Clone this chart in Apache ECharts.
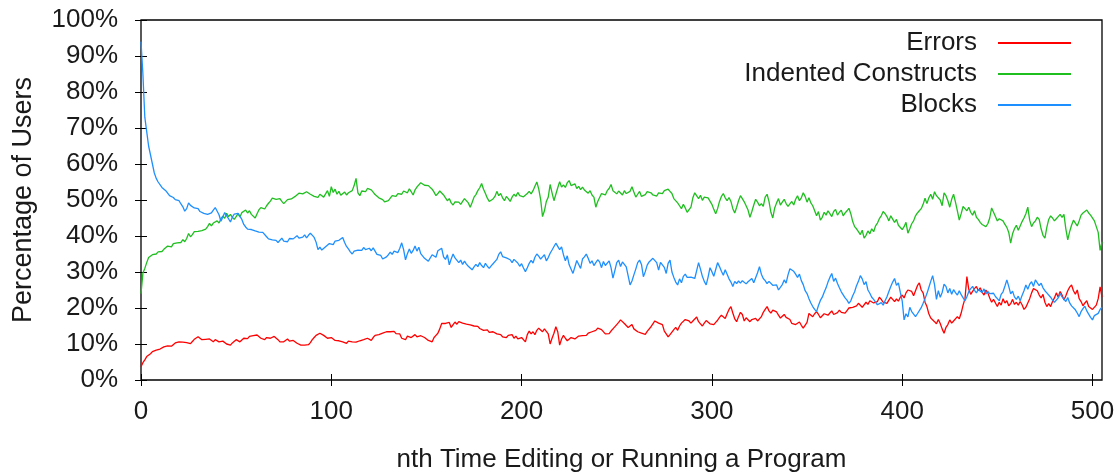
<!DOCTYPE html>
<html>
<head>
<meta charset="utf-8">
<script src="https://cdn.jsdelivr.net/npm/echarts@6/dist/echarts.min.js"></script>
<style>html,body{margin:0;padding:0;background:#fff}#c{width:1118px;height:473px}</style>
</head>
<body>
<div id="c"></div>
<script>
const seriesNames = ['Errors', 'Indented Constructs', 'Blocks'];
const xTicks = [0, 100, 200, 300, 400, 500];
const yTicks = [0, 10, 20, 30, 40, 50, 60, 70, 80, 90, 100];

const errors = [
3.7,4.8,5.6,6.5,7.0,7.3,7.9,7.6,8.3,8.8,
8.6,8.9,9.2,9.0,9.5,9.7,9.4,9.9,10.3,10.1,
10.6,10.2,10.5,10.8,10.4,10.6,10.1,10.7,11.3,11.6,
12.0,11.5,11.2,11.6,11.3,11.0,11.4,11.1,10.6,11.2,
10.9,10.6,10.2,10.8,10.4,10.0,9.8,9.7,10.3,10.7,
11.2,10.9,10.6,11.1,11.6,11.2,11.5,12.1,11.8,12.3,
12.0,12.5,12.2,11.6,11.9,11.2,11.8,12.3,11.6,11.9,
12.1,11.7,11.2,10.6,10.2,10.6,10.9,11.4,10.8,11.2,
11.0,10.6,10.2,10.0,9.7,9.8,9.7,10.2,9.8,10.4,
11.2,11.8,12.4,12.8,13.0,12.6,12.4,12.0,11.6,12.0,
11.8,11.4,11.0,11.3,10.9,11.2,10.6,10.3,10.2,10.8,
11.0,10.6,10.2,10.5,10.2,10.9,10.4,11.2,10.8,11.6,
11.2,11.0,11.8,12.4,12.0,12.6,12.2,13.0,13.2,13.4,
13.0,13.4,13.2,13.5,12.9,12.4,12.8,11.6,12.0,11.2,
12.2,12.6,11.8,11.4,12.6,12.0,11.5,12.3,12.5,11.8,
11.6,11.0,10.9,10.6,11.8,12.4,13.0,14.2,15.7,15.6,
15.7,15.8,16.0,14.6,15.4,16.1,15.5,16.2,16.0,15.8,
15.9,15.5,15.7,15.3,15.6,15.0,14.6,14.9,14.3,14.1,
13.8,13.5,13.9,13.2,13.6,13.4,13.0,12.8,12.4,12.6,
12.0,12.2,11.8,12.4,11.9,12.6,11.6,12.2,11.4,11.2,
11.8,12.2,10.6,12.6,13.6,12.8,13.4,12.6,13.8,14.4,
14.8,13.4,14.2,14.6,12.8,10.0,11.6,13.0,14.8,13.4,
9.7,11.4,12.4,11.6,10.9,11.3,11.8,12.0,11.4,11.7,
12.2,11.8,12.3,12.7,12.4,13.0,12.6,13.4,13.0,13.8,
14.4,14.8,14.0,13.6,12.8,13.3,12.9,13.6,14.2,14.6,
15.4,16.0,16.7,16.2,15.7,15.2,14.6,14.9,15.4,14.2,
13.8,13.4,13.3,13.0,13.2,12.7,13.5,14.0,14.8,15.6,
16.4,16.7,15.8,16.2,15.4,13.6,12.8,12.0,12.6,13.3,
14.0,14.6,13.8,15.0,15.8,16.2,16.8,17.1,16.4,15.8,
16.4,16.9,17.5,16.2,15.6,15.0,15.8,16.5,17.0,15.6,
16.0,15.4,16.0,16.6,17.4,18.0,17.6,17.1,18.4,19.6,
20.4,18.6,17.0,16.2,17.6,18.8,18.2,16.4,17.3,16.8,
16.2,16.8,16.4,17.1,16.4,16.9,17.6,18.8,19.6,20.4,
19.2,18.6,19.4,19.8,18.9,18.0,17.2,17.6,18.2,17.4,
17.6,16.8,15.7,16.2,15.4,15.8,16.1,15.2,14.4,13.9,
16.0,18.5,18.8,17.6,18.4,19.0,18.2,17.3,17.8,18.4,
18.8,18.0,18.6,19.2,18.2,18.1,18.7,19.4,18.8,19.2,
18.6,19.3,20.0,19.6,20.2,19.8,20.6,21.3,20.8,20.2,
20.7,21.6,21.0,22.0,22.2,21.4,20.9,21.8,23.0,22.4,
21.6,22.1,21.3,22.2,23.0,22.4,21.8,22.5,21.9,23.0,
23.6,22.8,24.2,25.0,25.5,24.6,23.4,24.8,26.2,27.0,
25.0,24.2,21.6,20.4,18.4,17.2,16.7,16.2,15.6,16.8,
15.7,14.2,13.0,14.6,15.4,16.7,15.8,16.4,16.9,17.6,
17.0,18.6,20.8,22.6,28.7,25.2,23.8,24.6,25.4,26.0,
24.8,25.6,24.4,23.6,25.0,24.2,22.8,21.6,22.4,21.4,
20.4,21.6,20.8,22.6,21.4,22.0,20.6,21.2,22.4,21.0,
21.6,20.8,21.8,20.9,19.6,20.2,21.4,22.6,24.2,25.4,
25.9,24.8,23.6,22.8,23.8,21.6,20.4,21.2,20.4,21.8,
22.8,24.2,23.0,24.6,23.6,22.2,23.4,24.8,25.8,26.4,
24.8,23.8,25.0,22.6,21.8,20.6,21.4,22.0,20.4,20.8,
19.6,19.2,20.8,22.6,25.9,23.0
];

const indented = [
24.0,29.7,31.0,32.6,34.0,34.2,34.8,35.3,35.0,35.6,
36.0,35.7,36.3,36.8,37.2,37.5,37.0,37.9,38.4,38.1,
38.6,38.2,39.0,38.4,39.3,40.7,39.8,40.4,41.2,41.0,
41.3,40.8,41.5,41.2,41.9,42.6,43.5,42.8,43.6,43.3,
44.2,43.6,44.8,45.5,44.9,46.3,45.4,46.0,45.2,44.6,
45.4,46.2,45.3,46.5,46.1,47.2,46.4,47.0,46.0,45.6,
45.0,46.2,47.3,47.9,48.0,47.5,48.4,49.1,49.7,50.5,
51.0,50.2,49.8,50.4,49.6,49.0,49.5,50.1,50.6,50.3,
50.8,51.0,51.5,51.9,52.3,51.7,52.2,52.3,52.0,51.6,
51.4,51.0,50.5,50.7,51.6,51.2,50.8,51.3,52.6,51.0,
53.7,52.1,53.0,51.6,52.4,51.3,50.9,52.2,51.4,52.0,
51.5,52.6,54.0,56.0,52.0,51.2,52.5,53.0,52.3,53.2,
53.7,52.8,52.2,51.5,51.7,50.6,50.9,50.1,49.5,49.0,
49.8,50.5,51.2,51.6,51.0,51.8,52.3,51.6,52.5,53.0,
52.0,53.1,52.3,51.4,52.8,53.6,54.2,54.8,54.6,54.1,
54.5,54.0,53.8,53.0,52.2,51.2,51.8,52.5,52.0,51.4,
50.6,49.8,50.4,49.2,48.6,49.5,49.0,49.4,48.8,49.6,
50.4,50.0,49.2,48.0,49.3,50.8,51.5,52.6,53.4,54.6,
53.0,51.8,50.5,49.6,49.2,50.3,51.0,52.4,51.2,51.8,
50.6,49.8,51.0,50.4,49.6,50.8,51.6,51.0,52.1,51.2,
51.6,50.9,51.3,51.8,52.4,51.7,52.6,53.8,55.0,53.1,
50.2,45.4,47.0,49.6,50.8,54.3,52.0,49.8,51.6,53.4,
55.1,53.6,54.2,53.5,54.8,55.4,54.0,53.6,54.5,53.2,
53.8,52.9,53.6,52.8,52.5,51.9,52.6,51.4,50.8,48.0,
49.6,50.7,51.8,52.2,51.4,52.6,53.2,54.3,52.6,53.0,
51.7,52.5,52.0,51.4,52.6,51.8,51.3,52.4,53.7,52.2,
50.8,51.6,52.4,51.0,50.6,51.5,52.3,51.8,52.0,51.4,
51.7,51.1,52.0,52.4,51.8,52.6,52.2,53.0,52.4,51.8,
50.4,50.0,49.2,48.4,47.6,48.8,47.8,46.6,46.3,48.0,
50.6,52.0,51.6,50.4,51.3,49.9,50.8,51.2,50.6,49.7,
48.8,47.4,46.2,47.6,49.6,51.0,51.8,50.6,49.8,50.7,
49.6,47.6,46.4,48.0,49.8,51.2,50.4,49.5,49.0,47.2,
45.2,46.8,48.6,50.2,49.4,48.4,49.0,48.2,50.8,51.6,
49.6,46.6,45.0,47.8,49.2,50.4,48.6,49.4,50.2,49.0,
48.2,47.8,49.6,48.6,50.2,51.2,49.8,50.6,52.0,51.0,
49.4,50.6,49.2,48.4,47.0,45.6,46.8,44.4,45.2,46.6,
45.8,47.0,46.2,45.4,46.8,47.4,45.8,46.6,47.2,45.6,
46.4,47.0,47.7,46.2,44.0,42.6,42.0,41.2,40.4,41.6,
39.4,40.2,41.4,40.6,42.0,41.2,42.8,43.6,44.8,45.6,
46.8,46.2,45.4,44.2,45.6,46.0,43.8,44.6,43.0,42.8,
41.8,42.6,43.8,40.8,42.0,43.4,44.2,45.6,46.4,47.0,
47.6,48.8,50.5,49.0,50.6,51.6,50.2,52.3,51.2,50.8,
50.0,48.4,52.0,51.2,49.8,48.0,50.2,51.6,49.4,47.0,
44.4,46.2,48.2,47.6,47.0,48.0,46.6,45.8,47.0,45.2,
44.6,43.8,43.2,42.9,42.6,43.4,45.0,47.8,46.6,45.4,
44.2,44.8,45.0,44.2,43.2,42.4,41.0,38.0,40.6,42.0,
43.0,41.6,42.8,44.0,45.0,46.2,48.0,44.4,42.6,43.6,
44.2,45.2,44.6,42.0,40.2,39.4,42.4,44.6,45.6,45.0,
44.2,44.8,45.4,46.0,45.2,46.0,42.0,38.9,41.2,43.0,
44.4,43.6,42.8,44.2,45.8,46.4,46.0,47.2,46.4,45.8,
45.6,44.2,42.6,41.0,36.0,38.4
];

const blocks = [
94.0,85.0,73.0,69.0,65.0,62.5,60.0,57.5,56.0,55.0,
54.5,53.5,53.8,52.6,51.9,51.2,51.6,50.7,50.1,49.6,
49.8,48.9,48.1,46.9,47.6,49.2,48.5,48.9,47.8,47.3,
47.6,46.8,47.1,46.3,46.7,46.0,45.6,46.4,47.2,47.9,
48.2,45.9,44.1,45.3,46.5,45.6,44.8,43.9,45.2,46.1,
45.7,46.3,45.9,44.6,43.2,42.5,41.9,41.6,41.8,42.2,
41.4,41.9,41.1,41.6,41.0,40.6,39.8,39.2,39.6,38.9,
38.5,38.8,38.2,38.7,39.4,38.6,39.1,38.4,39.3,39.8,
39.2,39.6,40.1,39.4,38.9,39.7,40.3,39.5,40.2,40.8,
40.4,39.6,38.3,36.2,36.9,36.1,36.4,37.0,37.5,37.9,
38.3,37.6,38.6,38.1,38.8,39.1,39.6,38.2,37.1,36.4,
35.6,35.0,35.8,35.3,36.1,36.5,36.0,36.8,36.2,36.4,
36.6,35.9,36.7,35.8,34.9,35.4,34.6,33.6,33.3,34.2,
34.8,35.5,34.9,35.8,36.2,35.4,36.6,38.1,36.2,33.4,
35.1,36.4,35.2,36.0,37.2,35.8,36.9,35.1,34.6,33.8,
34.3,33.0,33.4,34.8,35.2,34.1,35.9,36.3,36.6,34.2,
33.5,34.8,32.0,33.6,35.0,33.9,34.4,32.6,33.3,32.1,
33.0,32.2,31.6,31.9,30.6,31.4,32.1,31.5,32.6,31.8,
31.2,32.4,31.6,31.0,31.7,32.3,32.8,33.5,34.9,35.6,
34.3,34.8,33.9,34.2,33.4,32.6,33.5,33.1,32.5,31.6,
32.3,31.1,30.1,31.2,32.4,33.2,32.5,34.1,35.0,34.4,
33.6,34.2,34.8,33.1,34.0,35.2,36.1,36.4,38.0,37.1,
36.2,37.0,34.8,33.1,34.5,32.0,31.8,29.6,31.4,33.2,
32.1,31.0,33.6,34.2,35.0,33.8,32.4,33.1,31.8,32.6,
33.4,32.8,31.2,32.9,31.8,32.0,33.1,31.2,28.3,30.4,
32.6,33.3,31.5,32.8,33.0,31.4,28.9,26.4,27.5,29.2,
30.8,32.6,33.3,32.1,28.7,30.1,31.9,32.8,33.3,33.8,
33.9,32.6,30.5,32.7,33.0,31.3,29.6,32.4,33.3,30.0,
28.5,27.2,26.4,28.1,27.0,28.8,29.4,28.5,29.0,28.6,
29.1,28.2,30.4,32.6,30.8,28.8,27.4,26.4,28.6,31.2,
30.1,28.8,30.7,32.6,31.5,30.2,29.1,30.6,29.4,28.1,
27.2,26.0,27.4,26.8,27.5,26.9,27.6,27.1,26.7,27.3,
26.9,28.2,27.0,27.2,29.8,31.5,29.4,28.2,27.6,26.8,
27.4,27.2,26.3,25.8,26.4,25.0,25.5,26.5,27.8,26.9,
29.2,30.9,31.0,30.2,29.4,28.5,29.4,27.6,26.5,24.8,
24.0,22.6,21.4,20.4,19.6,19.0,20.7,22.1,23.0,24.4,
25.6,27.2,28.5,29.6,27.4,28.3,26.8,25.6,24.5,24.0,
22.8,22.2,21.3,22.0,23.4,24.5,26.2,27.4,29.0,28.1,
26.5,27.3,25.0,24.1,23.0,22.4,21.6,20.9,20.4,21.5,
20.8,22.0,23.1,24.6,26.0,27.2,28.2,26.3,27.0,24.4,
22.0,16.7,18.4,17.5,20.2,19.0,18.7,17.6,18.4,18.5,
20.1,21.3,22.6,24.0,25.7,27.4,29.0,26.5,22.4,24.8,
23.0,24.3,26.6,26.0,24.2,25.4,23.8,25.1,24.3,23.6,
24.8,23.7,23.2,22.0,23.1,24.6,25.4,26.0,24.9,24.2,
25.1,24.7,24.3,25.3,23.9,24.6,24.0,23.6,24.1,23.2,
22.6,22.0,23.8,24.5,26.1,27.8,26.0,23.9,24.7,23.1,
22.4,23.3,22.0,23.5,24.8,26.4,25.2,26.6,27.3,26.0,
27.8,27.0,26.2,26.9,25.6,24.8,24.2,23.8,23.0,22.2,
21.6,21.3,22.8,24.0,23.1,22.5,21.8,22.9,21.4,20.6,
20.2,19.5,18.6,17.6,19.0,19.8,20.5,19.2,18.3,17.4,
16.7,17.9,18.0,18.5,19.6,20.2
];

const colors = ['#ff0000', '#1fbf1f', '#1e8fff'];
const font = '"Liberation Sans", Arial, sans-serif';
const textColor = '#1a1a1a';
const toPairs = arr => arr.map((v, i) => [i, v]);

const chart = echarts.init(document.getElementById('c'), null, { renderer: 'canvas' });
const tickStyle = { show: true, inside: true, length: 6, lineStyle: { color: '#000', width: 1 } };
chart.setOption({
  animation: false,
  backgroundColor: '#fff',
  color: colors,
  grid: { left: 141, right: 16, top: 20, bottom: 93, containLabel: false, outerBoundsMode: 'none',
          show: true, borderColor: '#000', borderWidth: 1.3, backgroundColor: 'transparent' },
  legend: {
    orient: 'vertical', right: 42, top: 25, align: 'right', itemGap: 5,
    itemWidth: 73, itemHeight: 2, icon: 'rect',
    textStyle: { fontFamily: font, fontSize: 26, color: textColor, padding: [0, 16, 0, 0] },
    data: seriesNames
  },
  xAxis: [
    { type: 'value', min: 0, max: 505, interval: 100, position: 'bottom',
      name: 'nth Time Editing or Running a Program', nameLocation: 'middle', nameGap: 67,
      nameTextStyle: { fontFamily: font, fontSize: 26, color: textColor },
      axisLine: { show: false }, splitLine: { show: false },
      axisTick: Object.assign({ customValues: xTicks }, tickStyle),
      axisLabel: { customValues: xTicks, fontFamily: font, fontSize: 26, color: textColor, margin: 19 } },
    { type: 'value', min: 0, max: 505, position: 'top',
      axisLine: { show: false }, splitLine: { show: false },
      axisTick: Object.assign({ customValues: xTicks }, tickStyle),
      axisLabel: { show: false } }
  ],
  yAxis: [
    { type: 'value', min: 0, max: 100, interval: 10, position: 'left',
      name: 'Percentage of Users', nameLocation: 'middle', nameGap: 104, nameRotate: 90,
      nameTextStyle: { fontFamily: font, fontSize: 27, color: textColor },
      axisLine: { show: false }, splitLine: { show: false },
      axisTick: Object.assign({ customValues: yTicks }, tickStyle),
      axisLabel: { customValues: yTicks, formatter: '{value}%', fontFamily: font, fontSize: 26, color: textColor, margin: 23 } },
    { type: 'value', min: 0, max: 100, interval: 10, position: 'right',
      axisLine: { show: false }, splitLine: { show: false },
      axisTick: Object.assign({ customValues: yTicks }, tickStyle),
      axisLabel: { show: false } }
  ],
  series: [
    { name: seriesNames[0], type: 'line', data: toPairs(errors), showSymbol: false, symbol: 'none', lineStyle: { width: 1.3, color: colors[0] }, itemStyle: { color: colors[0] } },
    { name: seriesNames[1], type: 'line', data: toPairs(indented), showSymbol: false, symbol: 'none', lineStyle: { width: 1.3, color: colors[1] }, itemStyle: { color: colors[1] } },
    { name: seriesNames[2], type: 'line', data: toPairs(blocks), showSymbol: false, symbol: 'none', lineStyle: { width: 1.3, color: colors[2] }, itemStyle: { color: colors[2] } }
  ]
});
</script>
</body>
</html>
